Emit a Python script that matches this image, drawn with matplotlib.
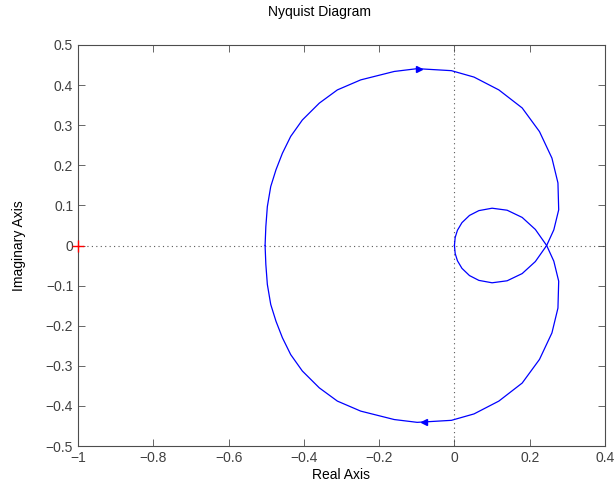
import matplotlib
matplotlib.use("Agg")
import matplotlib.pyplot as plt

plt.rcParams['font.family'] = ['Liberation Sans', 'DejaVu Sans']

# Branch 1: origin -> upper small loop -> crossing -> lower bulge -> bottom -> leftmost
re_pos = [0.000, 0.002, 0.008, 0.020, 0.040, 0.065, 0.100, 0.140, 0.180, 0.215, 0.245,
          0.264, 0.277, 0.275, 0.259, 0.226, 0.180, 0.118, 0.052, -0.008,
          -0.099, -0.160, -0.249, -0.311, -0.359, -0.404, -0.435, -0.457, -0.474,
          -0.488, -0.497, -0.501, -0.503]
im_pos = [0.000, 0.020, 0.038, 0.057, 0.075, 0.087, 0.093, 0.088, 0.070, 0.040, 0.000,
          -0.039, -0.089, -0.156, -0.218, -0.284, -0.343, -0.388, -0.420, -0.436,
          -0.441, -0.434, -0.413, -0.388, -0.355, -0.313, -0.272, -0.230, -0.189,
          -0.147, -0.097, -0.047, 0.000]
# Branch 2: leftmost -> top -> upper bulge -> crossing -> lower small loop -> origin
re_neg = [-0.503, -0.501, -0.497, -0.488, -0.474, -0.457, -0.435, -0.404, -0.359, -0.311,
          -0.249, -0.160, -0.099, -0.008, 0.052, 0.118, 0.180, 0.226, 0.259, 0.275,
          0.277, 0.264, 0.245, 0.215, 0.180, 0.140, 0.100, 0.065, 0.040, 0.020,
          0.008, 0.002, 0.000]
im_neg = [0.000, 0.047, 0.097, 0.147, 0.189, 0.230, 0.272, 0.313, 0.355, 0.388,
          0.413, 0.434, 0.441, 0.436, 0.420, 0.388, 0.343, 0.284, 0.218, 0.156,
          0.089, 0.039, 0.000, -0.040, -0.070, -0.088, -0.093, -0.087, -0.075, -0.057,
          -0.038, -0.020, 0.000]

arrow_re = [-0.095, -0.080]
arrow_im = [0.441, -0.441]
arrow_mk = ['>', '<']

critical_re = [-1.0]
critical_im = [0.0]

xticks = [-1, -0.8, -0.6, -0.4, -0.2, 0, 0.2, 0.4]
xlabels = ['\u22121', '\u22120.8', '\u22120.6', '\u22120.4', '\u22120.2', '0', '0.2', '0.4']
yticks = [-0.5, -0.4, -0.3, -0.2, -0.1, 0, 0.1, 0.2, 0.3, 0.4, 0.5]
ylabels = ['\u22120.5', '\u22120.4', '\u22120.3', '\u22120.2', '\u22120.1', '0',
           '0.1', '0.2', '0.3', '0.4', '0.5']

fig = plt.figure(figsize=(6.15, 4.87), dpi=100)
ax = fig.add_axes([78/615, 1-446/487, (605-78)/615, (446-45)/487])

# reference lines
ax.axhline(0, color='0.35', lw=0.8, ls=(0, (1, 3)), zorder=1)
ax.axvline(0, color='0.35', lw=0.8, ls=(0, (1, 3)), zorder=1)

ax.plot(re_pos, im_pos, color=(0, 0, 1), lw=0.9, zorder=3)
ax.plot(re_neg, im_neg, color=(0, 0, 1), lw=0.9, zorder=3)
for xr, yi, mk in zip(arrow_re, arrow_im, arrow_mk):
    ax.plot([xr], [yi], marker=mk, color=(0, 0, 1), markersize=5, zorder=4)

ax.plot(critical_re, critical_im, marker='+', color='red', markersize=8,
        mew=1.0, clip_on=False, zorder=5, ls='none')

ax.set_xlim(-1, 0.4)
ax.set_ylim(-0.5, 0.5)
ax.set_xticks(xticks)
ax.set_xticklabels(xlabels)
ax.set_yticks(yticks)
ax.set_yticklabels(ylabels)
ax.tick_params(direction='in', top=True, right=True, length=5, width=0.6,
               colors='0.3', labelsize=10, labelcolor='0.25')
for s in ax.spines.values():
    s.set_color('0.3')
    s.set_linewidth(0.8)

ax.set_xlabel('Real Axis', fontsize=10, labelpad=2)
ax.set_ylabel('Imaginary Axis', fontsize=10, labelpad=14)
fig.text(0.52, 1-12/487, 'Nyquist Diagram', ha='center', va='center', fontsize=10)

fig.savefig('out.png', dpi=100)
